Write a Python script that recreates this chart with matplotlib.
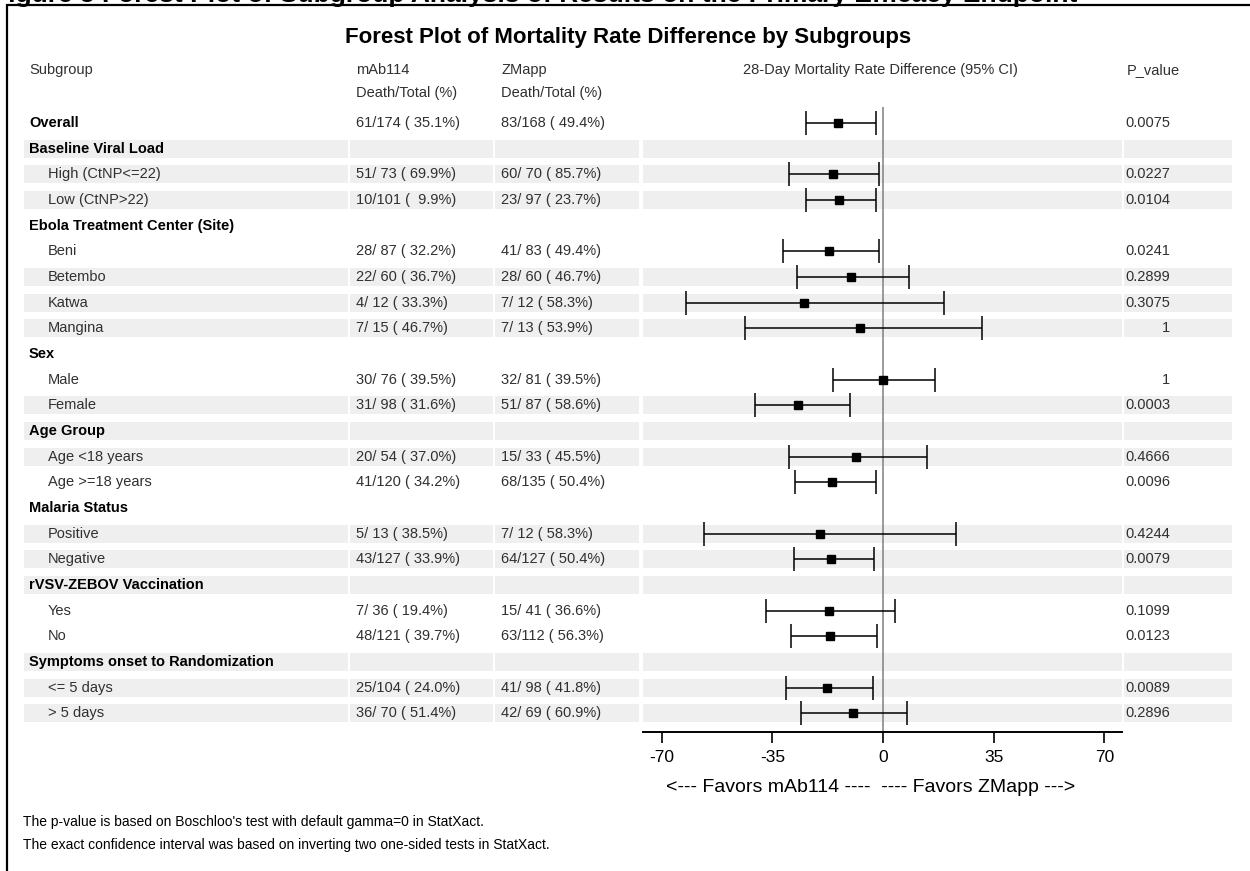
import matplotlib
matplotlib.use('Agg')
import matplotlib.pyplot as plt
from matplotlib.patches import Rectangle
import numpy as np

plt.rcParams['font.family'] = ['Liberation Sans', 'DejaVu Sans']

# Table / forest data
labels = ['Overall', 'Baseline Viral Load', 'High (CtNP<=22)', 'Low (CtNP>22)',
          'Ebola Treatment Center (Site)', 'Beni', 'Betembo', 'Katwa', 'Mangina',
          'Sex', 'Male', 'Female', 'Age Group', 'Age <18 years', 'Age >=18 years',
          'Malaria Status', 'Positive', 'Negative', 'rVSV-ZEBOV Vaccination', 'Yes', 'No',
          'Symptoms onset to Randomization', '<= 5 days', '> 5 days']
is_group = [1, 1, 0, 0, 1, 0, 0, 0, 0, 1, 0, 0, 1, 0, 0, 1, 0, 0, 1, 0, 0, 1, 0, 0]
mab114 = ['61/174 ( 35.1%)', '', '51/ 73 ( 69.9%)', '10/101 (  9.9%)', '',
          '28/ 87 ( 32.2%)', '22/ 60 ( 36.7%)', '4/ 12 ( 33.3%)', '7/ 15 ( 46.7%)', '',
          '30/ 76 ( 39.5%)', '31/ 98 ( 31.6%)', '', '20/ 54 ( 37.0%)', '41/120 ( 34.2%)', '',
          '5/ 13 ( 38.5%)', '43/127 ( 33.9%)', '', '7/ 36 ( 19.4%)', '48/121 ( 39.7%)', '',
          '25/104 ( 24.0%)', '36/ 70 ( 51.4%)']
zmapp = ['83/168 ( 49.4%)', '', '60/ 70 ( 85.7%)', '23/ 97 ( 23.7%)', '',
         '41/ 83 ( 49.4%)', '28/ 60 ( 46.7%)', '7/ 12 ( 58.3%)', '7/ 13 ( 53.9%)', '',
         '32/ 81 ( 39.5%)', '51/ 87 ( 58.6%)', '', '15/ 33 ( 45.5%)', '68/135 ( 50.4%)', '',
         '7/ 12 ( 58.3%)', '64/127 ( 50.4%)', '', '15/ 41 ( 36.6%)', '63/112 ( 56.3%)', '',
         '41/ 98 ( 41.8%)', '42/ 69 ( 60.9%)']
nan = np.nan
diff = [-14.3, nan, -15.8, -13.8, nan, -17.2, -10.0, -25.0, -7.2, nan, 0.0, -27.0,
        nan, -8.5, -16.2, nan, -19.8, -16.5, nan, -17.2, -16.6, nan, -17.8, -9.5]
ci_lo = [-24.3, nan, -29.7, -24.3, nan, -31.6, -27.2, -62.3, -43.5, nan, -15.7, -40.5,
         nan, -29.7, -27.7, nan, -56.5, -28.2, nan, -37.0, -29.0, nan, -30.6, -25.8]
ci_hi = [-2.3, nan, -1.4, -2.3, nan, -1.4, 8.1, 19.2, 31.2, nan, 16.4, -10.5,
         nan, 13.9, -2.3, nan, 23.0, -2.7, nan, 3.9, -1.8, nan, -3.3, 7.7]
p_value = ['0.0075', '', '0.0227', '0.0104', '', '0.0241', '0.2899', '0.3075', '1', '',
           '1', '0.0003', '', '0.4666', '0.0096', '', '0.4244', '0.0079', '', '0.1099',
           '0.0123', '', '0.0089', '0.2896']
shaded = [0, 1, 1, 1, 0, 0, 1, 1, 1, 0, 0, 1, 1, 1, 0, 0, 1, 1, 1, 0, 0, 1, 1, 1]
ticks = [-70, -35, 0, 35, 70]

W, H = 1250, 871
def fx(px): return px / W
def fy(py): return 1 - py / H

fig = plt.figure(figsize=(W / 100, H / 100), dpi=100)
fig.patch.set_facecolor('white')

# frame (cropped box) and the page heading cut at the top edge
fig.add_artist(Rectangle((fx(7), -0.1), 1.2, fy(5) + 0.1, transform=fig.transFigure,
                         fill=False, edgecolor='black', linewidth=1.6))
fig.text(fx(-8), fy(2), 'Figure 5 Forest Plot of Subgroup Analysis of Results on the Primary Efficacy Endpoint',
         fontsize=19, fontweight='bold', ha='left', va='baseline')

txt = '#303030'
fs = 10.5
y_top, y_bot = 107, 732          # pixel extent of the table / plot rows
row0, dy = 123, 25.66
ylim = ((y_bot - row0) / dy, (y_top - row0) / dy)

# table axes, x in pixels
axt = fig.add_axes([0, fy(y_bot), 1, (y_bot - y_top) / H])
axt.set_xlim(0, W)
axt.set_ylim(*ylim)
axt.axis('off')
rows = np.arange(len(labels))
srows = rows[np.array(shaded) == 1]
col_left = [24, 350, 495, 643, 1124]
col_right = [348, 493, 639, 1122, 1232]
for l, r in zip(col_left, col_right):
    axt.barh(srows, r - l, left=l, height=0.7, color='#efefef', zorder=0)

for i in rows:
    if is_group[i]:
        axt.text(29, i, labels[i], fontsize=fs, fontweight='bold', va='center', color='black')
    else:
        axt.text(48, i, labels[i], fontsize=fs, va='center', color=txt)
    axt.text(356, i, mab114[i], fontsize=fs, va='center', color=txt)
    axt.text(501, i, zmapp[i], fontsize=fs, va='center', color=txt)
    axt.text(1170, i, p_value[i], fontsize=fs, va='center', ha='right', color=txt)

# headers
fig.text(fx(628), fy(37), 'Forest Plot of Mortality Rate Difference by Subgroups',
         fontsize=16, fontweight='bold', ha='center', va='center')
fig.text(fx(29), fy(70), 'Subgroup', fontsize=fs, va='center', color=txt)
fig.text(fx(356), fy(70), 'mAb114', fontsize=fs, va='center', color=txt)
fig.text(fx(356), fy(93), 'Death/Total (%)', fontsize=fs, va='center', color=txt)
fig.text(fx(501), fy(70), 'ZMapp', fontsize=fs, va='center', color=txt)
fig.text(fx(501), fy(93), 'Death/Total (%)', fontsize=fs, va='center', color=txt)
fig.text(fx(880), fy(70), '28-Day Mortality Rate Difference (95% CI)', fontsize=fs,
         ha='center', va='center', color=txt)
fig.text(fx(1127), fy(70), 'P_value', fontsize=fs, va='center', color=txt)

# forest plot
ax = fig.add_axes([fx(643), fy(y_bot), (1122 - 643) / W, (y_bot - y_top) / H])
ax.patch.set_alpha(0)
d = np.array(diff); lo = np.array(ci_lo); hi = np.array(ci_hi)
ax.axvline(0, color='#808080', linewidth=1.1, zorder=1)
ax.errorbar(d, rows, xerr=[d - lo, hi - d], fmt='s', color='black', ms=5.5,
            elinewidth=1.1, capsize=8.5, capthick=1.1, zorder=3)
ax.set_xlim(-75.9, 75.6)
ax.set_ylim(*ylim)
for s in ['top', 'left', 'right']:
    ax.spines[s].set_visible(False)
ax.spines['bottom'].set_linewidth(1.4)
ax.set_yticks([])
ax.set_xticks(ticks)
ax.set_xticklabels([str(t) for t in ticks])
ax.tick_params(axis='x', length=8, width=1.2, labelsize=12.5, pad=5)
ax.set_xlabel('<--- Favors mAb114 ----  ---- Favors ZMapp --->', fontsize=14)
ax.xaxis.set_label_coords((871 - 643) / (1122 - 643), -(787 - y_bot) / (y_bot - y_top),
                          transform=ax.transAxes)
ax.xaxis.label.set_va('center')

# footnotes
fig.text(fx(23), fy(822), "The p-value is based on Boschloo's test with default gamma=0 in StatXact.",
         fontsize=10, va='center')
fig.text(fx(23), fy(845), 'The exact confidence interval was based on inverting two one-sided tests in StatXact.',
         fontsize=10, va='center')

fig.savefig('out.png', dpi=100)
